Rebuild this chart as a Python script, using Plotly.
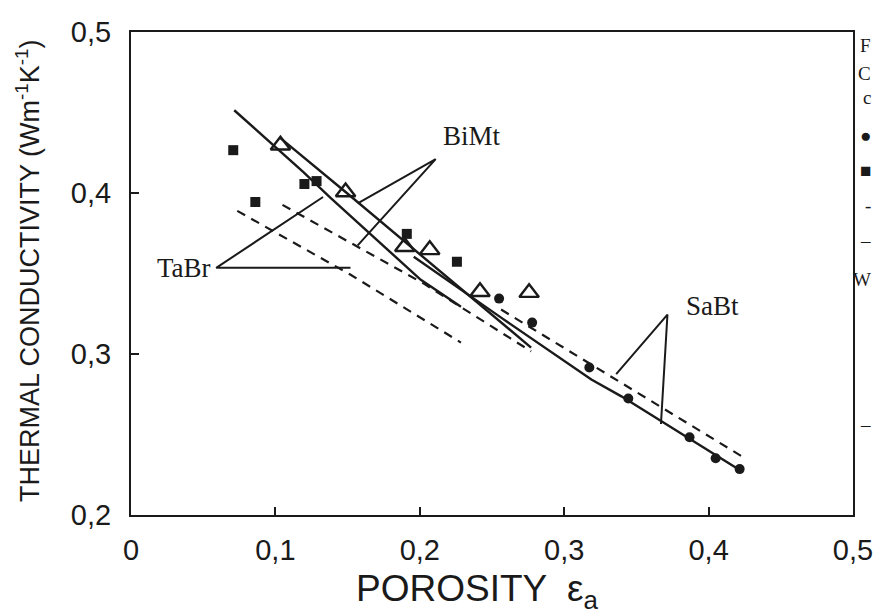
import plotly.graph_objects as go

# ---------------- data ----------------
# measured points
tabr_sq_x = [0.0708, 0.0861, 0.1201, 0.1285, 0.1910, 0.2257]
tabr_sq_y = [0.4266, 0.3944, 0.4056, 0.4074, 0.3746, 0.3573]

bimt_tri_x = [0.1035, 0.1486, 0.1896, 0.2069, 0.2417, 0.2757]
bimt_tri_y = [0.4297, 0.4006, 0.3666, 0.3647, 0.3387, 0.3381]

sabt_ci_x = [0.2549, 0.2778, 0.3174, 0.3444, 0.3868, 0.4049, 0.4215]
sabt_ci_y = [0.3344, 0.3195, 0.2916, 0.2724, 0.2483, 0.2353, 0.2285]

# model curves
tabr_solid_x = [0.0715, 0.1194, 0.1382, 0.2007, 0.2285]
tabr_solid_y = [0.4514, 0.4130, 0.3969, 0.3461, 0.3294]
tabr_dash_x = [0.0736, 0.1521, 0.2285]
tabr_dash_y = [0.3889, 0.3492, 0.3071]

bimt_solid_x = [0.1035, 0.1486, 0.2771]
bimt_solid_y = [0.4341, 0.4006, 0.3040]
bimt_dash_x = [0.1049, 0.2028, 0.2771]
bimt_dash_y = [0.3926, 0.3437, 0.3016]

sabt_solid_x = [0.1958, 0.2563, 0.3188, 0.3396, 0.4229]
sabt_solid_y = [0.3604, 0.3226, 0.2842, 0.2737, 0.2272]
sabt_dash_x = [0.2563, 0.4229]
sabt_dash_y = [0.3276, 0.2365]

# curve labels and their pointers (end1, apex, end2)
labels = ["TaBr", "BiMt", "SaBt"]
label_x = [0.0167, 0.2146, 0.383]
label_y = [0.3536, 0.4353, 0.3300]
tabr_ptr_x = [0.1330, 0.0590, 0.1520]
tabr_ptr_y = [0.3975, 0.3535, 0.3535]
bimt_ptr_x = [0.1570, 0.2110, 0.1570]
bimt_ptr_y = [0.3935, 0.4210, 0.3675]
sabt_ptr_x = [0.3360, 0.3715, 0.3670]
sabt_ptr_y = [0.2875, 0.3245, 0.2565]

xticks = [0, 0.1, 0.2, 0.3, 0.4, 0.5]
xtick_text = ["0", "0,1", "0,2", "0,3", "0,4", "0,5"]
yticks = [0.2, 0.3, 0.4, 0.5]
ytick_text = ["0,2", "0,3", "0,4", "0,5"]

# legend characters cut off at the right edge of the scan
edge_chars = ["F", "C", "c", "●", "■", "-", "–", "W", "–"]
edge_y_px = [45, 73, 97, 135, 170, 205, 240, 280, 425]

# ---------------- figure ----------------
INK = "#1a1a1a"
SANS = "Liberation Sans, Arial, Helvetica, sans-serif"
SERIF = "Liberation Serif, Times New Roman, serif"
W, H = 874, 615
ML, MR, MT, MB = 131, 21, 31.5, 99.5
PW, PH = W - ML - MR, H - MT - MB

fig = go.Figure()

def line(x, y, dash="solid", w=2.4):
    fig.add_trace(go.Scatter(x=x, y=y, mode="lines", showlegend=False,
                             line=dict(color=INK, width=w, dash=dash),
                             hoverinfo="skip"))

line(tabr_solid_x, tabr_solid_y)
line(tabr_dash_x, tabr_dash_y, "9px,7px", 2.2)
line(bimt_solid_x, bimt_solid_y)
line(bimt_dash_x, bimt_dash_y, "9px,7px", 2.2)
line(sabt_solid_x, sabt_solid_y)
line(sabt_dash_x, sabt_dash_y, "9px,7px", 2.2)
for px, py in [(tabr_ptr_x, tabr_ptr_y), (bimt_ptr_x, bimt_ptr_y), (sabt_ptr_x, sabt_ptr_y)]:
    line(px, py, "solid", 2.0)

fig.add_trace(go.Scatter(x=tabr_sq_x, y=tabr_sq_y, mode="markers", showlegend=False,
                         marker=dict(symbol="square", size=10, color=INK)))
fig.add_trace(go.Scatter(x=bimt_tri_x, y=bimt_tri_y, mode="markers", showlegend=False,
                         marker=dict(symbol="triangle-up-open", size=17, color=INK,
                                     line=dict(width=2.4, color=INK))))
fig.add_trace(go.Scatter(x=sabt_ci_x, y=sabt_ci_y, mode="markers", showlegend=False,
                         marker=dict(symbol="circle", size=10, color=INK)))

for t, lx, ly in zip(labels, label_x, label_y):
    fig.add_annotation(x=lx, y=ly, text=t, showarrow=False, xanchor="left",
                       yanchor="middle", font=dict(family=SERIF, size=27, color=INK))

# axis titles
fig.add_annotation(xref="paper", yref="paper", x=(477 - ML) / PW, y=1 - (592 - MT) / PH,
                   xanchor="center", yanchor="middle",
                   text="POROSITY  ε<sub>a</sub>", showarrow=False,
                   font=dict(family=SANS, size=37, color=INK))
fig.add_annotation(xref="paper", yref="paper", x=(28 - ML) / PW, y=1 - (271 - MT) / PH,
                   textangle=-90, xanchor="center", yanchor="middle",
                   text="THERMAL CONDUCTIVITY (Wm<sup>-1</sup>K<sup>-1</sup>)", showarrow=False,
                   font=dict(family=SANS, size=27, color=INK))

for ch, ypx in zip(edge_chars, edge_y_px):
    fig.add_annotation(xref="paper", yref="paper", x=(873 - ML) / PW,
                       y=1 - (ypx - MT) / PH, xanchor="right", yanchor="middle",
                       text=ch, showarrow=False,
                       font=dict(family=SERIF, size=19, color=INK))

axis_font = dict(family=SANS, size=29, color=INK)
common = dict(ticks="inside", ticklen=8, tickwidth=2, tickcolor=INK, showline=True,
              linecolor=INK, linewidth=2.2, mirror=True, showgrid=False,
              zeroline=False, tickfont=axis_font, automargin=False)
fig.update_xaxes(range=[0, 0.5], tickvals=xticks, ticktext=xtick_text,
                 ticklabelstandoff=8, **common)
fig.update_yaxes(range=[0.2, 0.5], tickvals=yticks, ticktext=ytick_text,
                 ticklabelstandoff=12, **common)
fig.update_layout(width=W, height=H, paper_bgcolor="white", plot_bgcolor="white",
                  margin=dict(l=ML, r=MR, t=MT, b=MB, autoexpand=False), showlegend=False)

fig.write_html("out.html", config={"displayModeBar": False},
               post_script="document.body.style.margin='0';"
                           "document.body.style.overflow='hidden';")
